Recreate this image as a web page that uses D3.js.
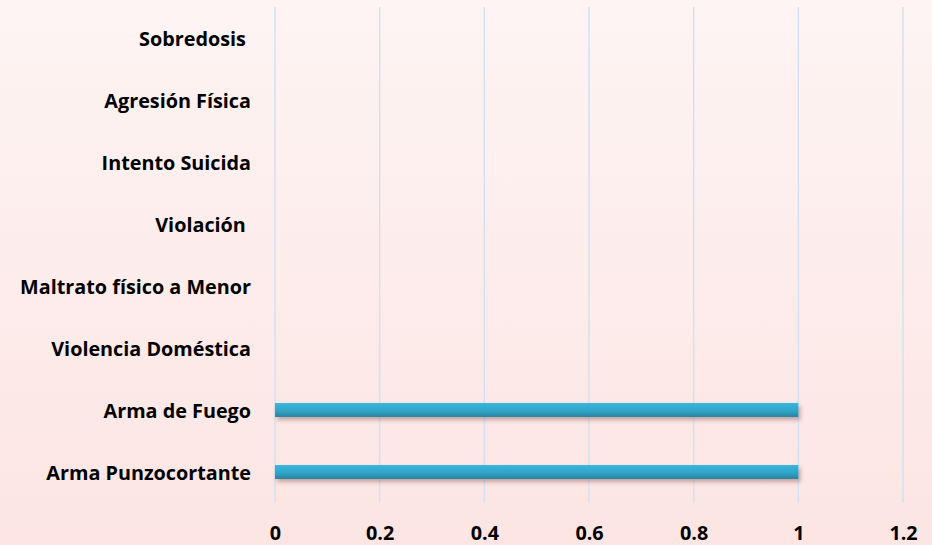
<!DOCTYPE html>
<html>
<head>
<meta charset="utf-8">
<script src="https://cdn.jsdelivr.net/npm/d3@7"></script>
<style>
  html, body { margin: 0; padding: 0; }
  body { width: 932px; height: 545px; overflow: hidden; }
  text { font-family: "Open Sans", Lato, sans-serif; font-weight: bold; fill: #000; }
</style>
</head>
<body>
<svg id="chart" width="932" height="545"></svg>
<script>
// Categories, top to bottom
var categories = [
    "Sobredosis ",
    "Agresión Física",
    "Intento Suicida",
    "Violación ",
    "Maltrato físico a Menor",
    "Violencia Doméstica",
    "Arma de Fuego",
    "Arma Punzocortante"
];
var values = [0, 0, 0, 0, 0, 0, 1, 1];
var xTicks = [0, 0.2, 0.4, 0.6, 0.8, 1, 1.2];

var svg = d3.select("#chart");
var width = 932, height = 545;
var margin = {top: 7, left: 275, right: 29, bottom: 40};

var defs = svg.append("defs");

// Background gradient
var bg = defs.append("linearGradient")
    .attr("id", "bg")
    .attr("x1", 0).attr("y1", 0).attr("x2", 0).attr("y2", 1);
bg.append("stop").attr("offset", "0%").attr("stop-color", "#fdf4f3");
bg.append("stop").attr("offset", "100%").attr("stop-color", "#fce5e3");

// Bar gradient
var barGrad = defs.append("linearGradient")
    .attr("id", "barGrad")
    .attr("x1", 0).attr("y1", 0).attr("x2", 0).attr("y2", 1);
barGrad.append("stop").attr("offset", "0%").attr("stop-color", "#38b6dc");
barGrad.append("stop").attr("offset", "55%").attr("stop-color", "#30a5c8");
barGrad.append("stop").attr("offset", "100%").attr("stop-color", "#2a849f");

// Soft shadow under the bars
var shadow = defs.append("filter")
    .attr("id", "shadow")
    .attr("x", "-5%").attr("y", "-50%")
    .attr("width", "110%").attr("height", "250%");
shadow.append("feDropShadow")
    .attr("dx", 2).attr("dy", 3)
    .attr("stdDeviation", 2)
    .attr("flood-color", "#7a4a4a")
    .attr("flood-opacity", 0.45);

svg.append("rect")
    .attr("width", width)
    .attr("height", height)
    .attr("fill", "url(#bg)");

var x = d3.scaleLinear()
    .domain([0, 1.2])
    .range([margin.left, width - margin.right]);

var y = d3.scaleBand()
    .domain(categories)
    .range([margin.top, height - margin.bottom - 2])
    .paddingInner(0.775)
    .paddingOuter(0.3875);

// Vertical gridlines
svg.selectAll(".grid")
    .data(xTicks)
    .join("line")
    .attr("class", "grid")
    .attr("x1", function(d) { return x(d); })
    .attr("x2", function(d) { return x(d); })
    .attr("y1", margin.top)
    .attr("y2", height - margin.bottom - 2)
    .attr("stroke", "#d3e2f2")
    .attr("stroke-width", 1.5);

// Bars
svg.selectAll(".bar")
    .data(categories)
    .join("rect")
    .attr("class", "bar")
    .attr("x", x(0))
    .attr("y", function(d) { return y(d); })
    .attr("width", function(d, i) { return x(values[i]) - x(0); })
    .attr("height", y.bandwidth())
    .attr("fill", "url(#barGrad)")
    .attr("filter", "url(#shadow)")
    .style("display", function(d, i) { return values[i] > 0 ? null : "none"; });

// Category labels
var yAxis = d3.axisLeft(y).tickSize(0).tickPadding(24);
svg.append("g")
    .attr("transform", `translate(${x(0)},2)`)
    .call(yAxis)
    .call(function(g) { g.select(".domain").remove(); })
    .selectAll("text")
    .style("font-size", "19.8px")
    .style("white-space", "pre")
    .attr("font-family", null);

// Value axis labels
var xAxis = d3.axisBottom(x).tickValues(xTicks).tickSize(0).tickPadding(0)
    .tickFormat(function(d) { return String(d); });
svg.append("g")
    .attr("transform", `translate(0,${height - 19})`)
    .call(xAxis)
    .call(function(g) { g.select(".domain").remove(); })
    .selectAll("text")
    .style("font-size", "19.8px")
    .attr("font-family", null);
</script>
</body>
</html>
